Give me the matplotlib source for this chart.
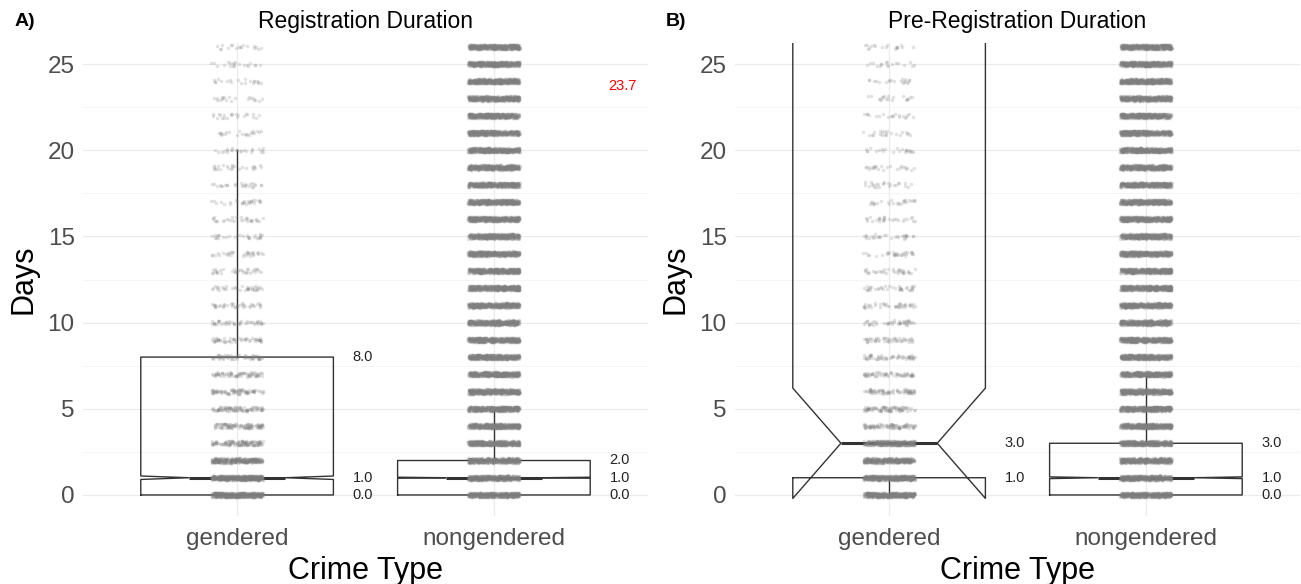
import numpy as np
import matplotlib
matplotlib.use('Agg')
import matplotlib.pyplot as plt

plt.rcParams['font.family'] = ['Liberation Sans', 'DejaVu Sans']

# --- data -------------------------------------------------------------
categories = ['gendered', 'nongendered']
days = np.arange(27)

# points per day (jittered rows)
reg_counts_gendered = [500, 500, 320, 130, 110, 95, 85, 75, 65, 55, 45, 40, 38,
                       35, 32, 30, 30, 28, 26, 25, 24, 22, 22, 20, 20, 20, 18]
reg_counts_nongendered = [450] * 27
pre_counts_gendered = [450, 450, 380, 320, 95, 85, 75, 65, 58, 52, 46, 42, 38,
                       35, 32, 30, 28, 26, 25, 24, 22, 22, 20, 20, 20, 18, 18]
pre_counts_nongendered = [450] * 27

# box statistics: gendered, nongendered
reg_q1 = [0, 0]
reg_med = [1, 1]
reg_q3 = [8, 2]
reg_whislo = [0, 0]
reg_whishi = [20, 5]
reg_cilo = [0.9, 0.97]
reg_cihi = [1.1, 1.03]

pre_q1 = [1, 0]
pre_med = [3, 1]
pre_q3 = [40, 3]
pre_whislo = [0, 0]
pre_whishi = [40, 7]
pre_cilo = [-0.2, 0.95]
pre_cihi = [6.2, 1.05]

# value labels next to the boxes
reg_labels = [[8.0, 1.0, 0.0], [2.0, 1.0, 0.0]]
reg_extra = 23.7
pre_labels = [[3.0, 1.0], [3.0, 1.0, 0.0]]

# --- helpers ----------------------------------------------------------
JIT_W, JIT_H = 0.1, 0.13
TXT = '#4D4D4D'
LINE = '#333333'


def spread(i, a, b):
    # fixed hash in [0, 1) used as jitter offset
    return (np.sin(i * a + b) * 43758.5453) % 1


def draw_points(ax, xpos, counts, start=0):
    xs, ys = [], []
    k = start
    for d, n in zip(days, counts):
        i = np.arange(k, k + n, dtype=float)
        xs.append(xpos + (2 * spread(i, 12.9898, 78.233) - 1) * JIT_W)
        ys.append(d + (2 * spread(i, 39.3468, 11.135) - 1) * JIT_H)
        k += n
    ax.scatter(np.concatenate(xs), np.concatenate(ys), s=6.5, color='#7F7F7F',
               alpha=0.22, linewidths=0, zorder=3)


def draw_panel(ax, q1, med, q3, wlo, whi, cilo, cihi, counts, labels, title):
    stats = []
    for j in range(2):
        stats.append(dict(q1=q1[j], med=med[j], q3=q3[j], whislo=wlo[j],
                          whishi=whi[j], cilo=cilo[j], cihi=cihi[j], fliers=[]))
    ax.bxp(stats, positions=[1, 2], widths=0.75, shownotches=True,
           showcaps=False, showfliers=False, manage_ticks=False,
           boxprops=dict(color=LINE, linewidth=1.0),
           whiskerprops=dict(color=LINE, linewidth=1.0),
           medianprops=dict(color=LINE, linewidth=2.2))
    for j, c in enumerate(counts):
        draw_points(ax, j + 1, c, start=j * 7919)
    for j, vals in enumerate(labels):
        for v in vals:
            ax.text(j + 1.49, v, f'{v:.1f}', ha='center', va='center',
                    fontsize=10.5, color='#222222', zorder=4)

    ax.set_xlim(0.4, 2.6)
    ax.set_ylim(-1.22, 26.22)
    ax.set_xticks([1, 2])
    ax.set_xticklabels(categories)
    ax.set_yticks([0, 5, 10, 15, 20, 25])
    ax.set_yticks([2.5, 7.5, 12.5, 17.5, 22.5], minor=True)
    ax.tick_params(axis='both', which='both', length=0, labelsize=17.5,
                   labelcolor=TXT)
    ax.tick_params(axis='x', pad=9)
    ax.tick_params(axis='y', pad=6)
    ax.grid(True, which='major', color='#EBEBEB', linewidth=0.9)
    ax.grid(True, which='minor', axis='y', color='#F2F2F2', linewidth=0.5)
    ax.set_axisbelow(True)
    for s in ax.spines.values():
        s.set_visible(False)
    ax.set_xlabel('Crime Type', fontsize=22, labelpad=4)
    ax.set_ylabel('Days', fontsize=22)
    ax.yaxis.set_label_coords(-0.078, 0.5)
    ax.set_title(title, fontsize=16.5, pad=11)


fig = plt.figure(figsize=(13.01, 5.84), dpi=100)
ax1 = fig.add_axes([83 / 1301, 68 / 584, 565 / 1301, 473 / 584])
ax2 = fig.add_axes([735 / 1301, 68 / 584, 565 / 1301, 473 / 584])

draw_panel(ax1, reg_q1, reg_med, reg_q3, reg_whislo, reg_whishi, reg_cilo,
           reg_cihi, [reg_counts_gendered, reg_counts_nongendered],
           reg_labels, 'Registration Duration')
ax1.text(2.5, reg_extra, f'{reg_extra:.1f}', ha='center', va='center',
         fontsize=10.5, color='red', zorder=4)

draw_panel(ax2, pre_q1, pre_med, pre_q3, pre_whislo, pre_whishi, pre_cilo,
           pre_cihi, [pre_counts_gendered, pre_counts_nongendered],
           pre_labels, 'Pre-Registration Duration')

fig.text(15 / 1301, 1 - 22 / 584, 'A)', fontsize=14, fontweight='bold',
         va='center', ha='left')
fig.text(666 / 1301, 1 - 22 / 584, 'B)', fontsize=14, fontweight='bold',
         va='center', ha='left')

fig.savefig('out.png', dpi=100)
